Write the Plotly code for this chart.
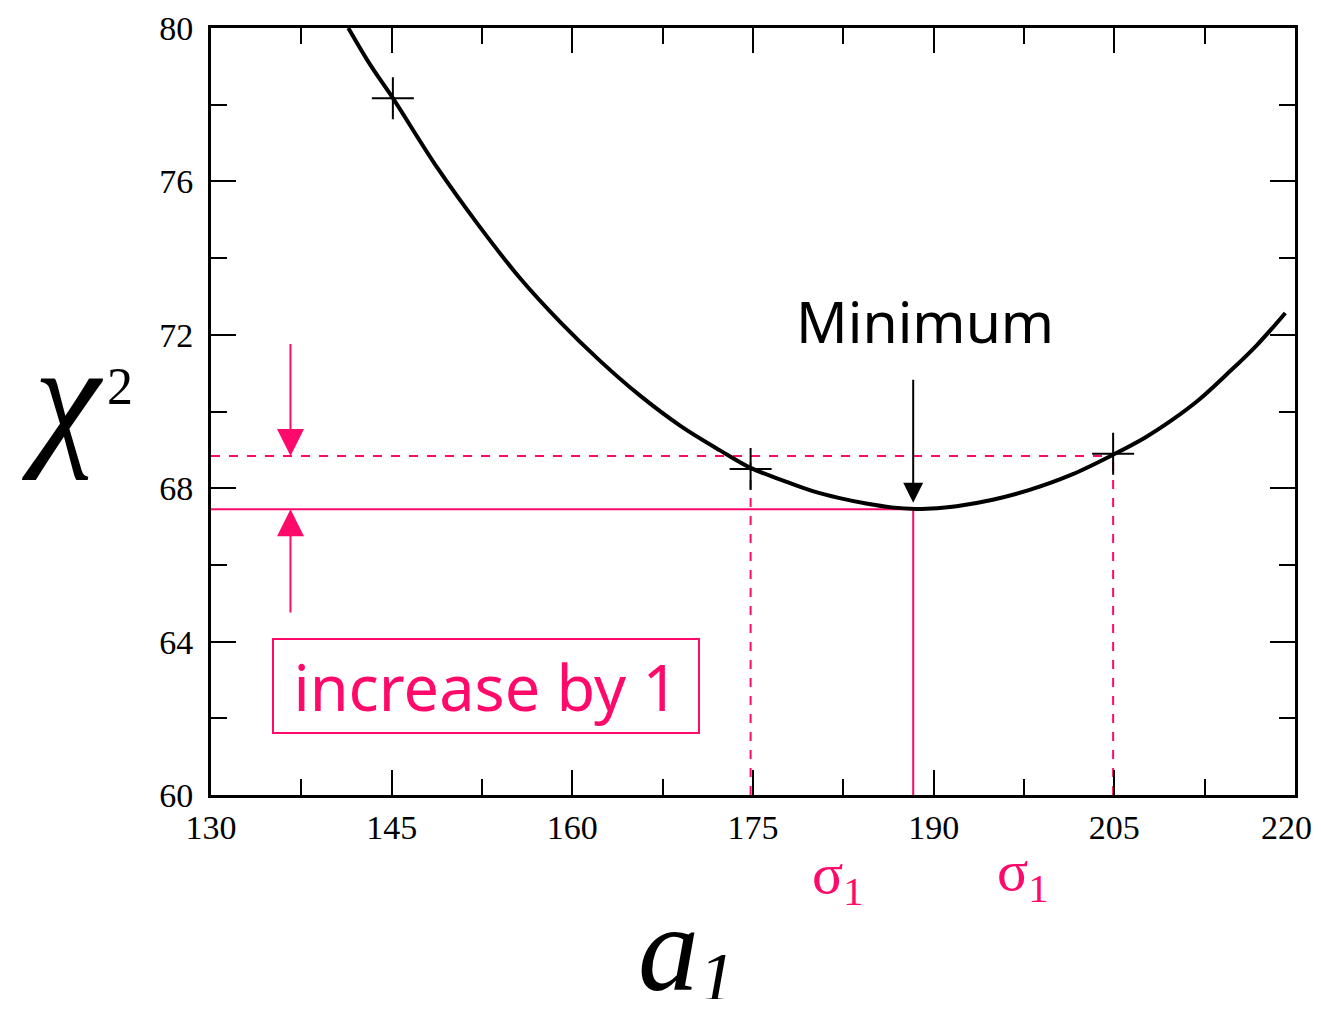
import plotly.graph_objects as go

# ---- data ----
a1_curve = [141.4, 143.2, 145.1, 148.8, 152.3, 155.7, 159.0, 162.3, 165.6, 169.0,
            172.3, 174.8, 177.5, 179.9, 182.2, 184.4, 186.5, 188.5, 190.3, 191.9,
            194.9, 197.9, 201.5, 205.0, 207.5, 209.8, 212.0, 214.3, 216.8, 219.2]
chi2_curve = [80.0, 79.05, 78.17, 76.35, 74.82, 73.46, 72.33, 71.32, 70.42, 69.62,
              68.98, 68.53, 68.20, 67.93, 67.74, 67.60, 67.50, 67.46, 67.48, 67.53,
              67.70, 67.95, 68.36, 68.89, 69.31, 69.78, 70.30, 70.96, 71.72, 72.57]

a1_marks = [145.1, 174.8, 204.9]
chi2_marks = [78.17, 68.50, 68.90]

a1_min = 188.3
chi2_min = 67.45
chi2_plus1 = 68.84
a1_low = 174.8
a1_high = 204.9

x_ticks = [130, 145, 160, 175, 190, 205, 220]
x_ticktext = ["130", "145", "160", "175", "190", "205", "220\u00a0\u00a0"]
y_ticks = [60, 64, 68, 72, 76, 80]

PINK = "#ff0a6a"

fig = go.Figure()

fig.add_trace(go.Scatter(
    x=a1_curve, y=chi2_curve, mode="lines",
    line=dict(color="black", width=4, shape="spline", smoothing=1.0),
    hoverinfo="skip", showlegend=False, cliponaxis=True))

fig.add_trace(go.Scatter(
    x=a1_marks, y=chi2_marks, mode="markers",
    marker=dict(symbol="cross-thin", size=30, line=dict(color="black", width=2)),
    hoverinfo="skip", showlegend=False))

shapes = [
    dict(type="line", x0=130, x1=a1_min, y0=chi2_min, y1=chi2_min,
         line=dict(color=PINK, width=2)),
    dict(type="line", x0=a1_min, x1=a1_min, y0=60, y1=chi2_min,
         line=dict(color=PINK, width=2)),
    dict(type="line", x0=130, x1=a1_high, y0=chi2_plus1, y1=chi2_plus1,
         line=dict(color=PINK, width=2, dash="dash")),
    dict(type="line", x0=a1_low, x1=a1_low, y0=60, y1=chi2_plus1,
         line=dict(color=PINK, width=2, dash="dash")),
    dict(type="line", x0=a1_high, x1=a1_high, y0=60, y1=chi2_plus1,
         line=dict(color=PINK, width=2, dash="dash")),
]
for s in shapes:
    s.update(xref="x", yref="y", layer="below")
fig.update_layout(shapes=shapes)

ann = []
ann.append(dict(x=136.6, y=chi2_plus1, ax=136.6, ay=71.8, xref="x", yref="y",
                axref="x", ayref="y", text="", showarrow=True, arrowhead=2,
                arrowsize=2.7, arrowwidth=2, arrowcolor=PINK))
ann.append(dict(x=136.6, y=chi2_min, ax=136.6, ay=64.72, xref="x", yref="y",
                axref="x", ayref="y", text="", showarrow=True, arrowhead=2,
                arrowsize=2.7, arrowwidth=2, arrowcolor=PINK))
ann.append(dict(x=a1_min, y=67.62, ax=a1_min, ay=70.87, xref="x", yref="y",
                axref="x", ayref="y", text="", showarrow=True, arrowhead=2,
                arrowsize=2.0, arrowwidth=2, arrowcolor="black"))
ann.append(dict(x=189.3, y=72.35, xref="x", yref="y", text="Minimum",
                showarrow=False, font=dict(family="Noto Sans", size=57, color="black")))
ann.append(dict(x=152.84, y=62.84, xref="x", yref="y", text="increase by 1",
                showarrow=False, width=424, height=92, bordercolor=PINK, borderwidth=2,
                borderpad=0, bgcolor="white",
                font=dict(family="Noto Sans", size=63, color=PINK)))
# outside-plot labels (paper coords, explicit centre anchors)
for xs, ys in ((0.578, -0.108), (0.749, -0.104)):
    ann.append(dict(x=xs, y=ys, xref="paper", yref="paper", text="σ<sub>1</sub>",
                    xanchor="center", yanchor="middle", showarrow=False,
                    font=dict(family="Liberation Serif", size=58, color=PINK)))
ann.append(dict(x=-0.137, y=0.519, xref="paper", yref="paper",
                text="<i>χ</i>", showarrow=False, xanchor="center", yanchor="middle",
                font=dict(family="Liberation Serif", size=150, color="black")))
ann.append(dict(x=-0.084, y=0.532, xref="paper", yref="paper",
                text="2", showarrow=False, xanchor="center", yanchor="middle",
                font=dict(family="Liberation Serif", size=52, color="black")))
ann.append(dict(x=0.4216, y=-0.1995, xref="paper", yref="paper", height=90,
                text="<i>a</i>", showarrow=False, xanchor="center", yanchor="middle",
                font=dict(family="Liberation Serif", size=122, color="black")))
ann.append(dict(x=0.467, y=-0.237, xref="paper", yref="paper", height=44,
                text="<i>1</i>", showarrow=False, xanchor="center", yanchor="middle",
                font=dict(family="Liberation Serif", size=72, color="black")))
fig.update_layout(annotations=ann)

fig.update_xaxes(range=[130, 220], tickvals=x_ticks, ticktext=x_ticktext,
                 ticks="inside", ticklen=25, tickwidth=2, tickcolor="black",
                 minor=dict(dtick=7.5, tick0=130, ticks="inside", ticklen=16,
                            tickwidth=2, tickcolor="black"),
                 showline=True, linecolor="black", linewidth=3, mirror="ticks",
                 showgrid=False, zeroline=False, ticklabeloverflow="allow",
                 automargin=False,
                 tickfont=dict(family="Liberation Serif", size=34, color="black"))
fig.update_yaxes(range=[60, 80], tickvals=y_ticks, ticktext=[str(v) for v in y_ticks],
                 ticks="inside", ticklen=25, tickwidth=2, tickcolor="black",
                 minor=dict(dtick=2, tick0=60, ticks="inside", ticklen=16,
                            tickwidth=2, tickcolor="black"),
                 showline=True, linecolor="black", linewidth=3, mirror="ticks",
                 showgrid=False, zeroline=False, ticklabelstandoff=8,
                 ticklabeloverflow="allow", automargin=False,
                 tickfont=dict(family="Liberation Serif", size=34, color="black"))

fig.update_layout(width=1305, height=995,
                  margin=dict(l=203, r=18, t=20, b=208),
                  paper_bgcolor="white", plot_bgcolor="white",
                  showlegend=False)

fig.write_html("out.html", config={"displayModeBar": False})
